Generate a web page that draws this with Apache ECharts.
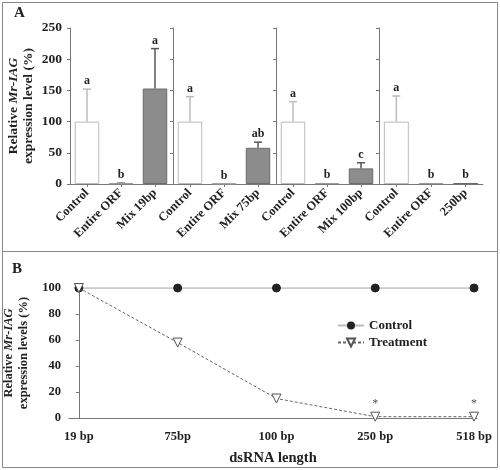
<!DOCTYPE html>
<html><head><meta charset="utf-8">
<script src="https://cdn.jsdelivr.net/npm/echarts@6/dist/echarts.min.js"></script>
<style>html,body{margin:0;padding:0;background:#fff}#c{width:500px;height:470px}</style>
</head><body><div id="c"></div>
<script>
// ---- Panel A data ----
const catsA1 = ["Control", "Entire ORF", "Mix 19bp"];
const catsA2 = ["Control", "Entire ORF", "Mix 75bp"];
const catsA3 = ["Control", "Entire ORF", "Mix 100bp"];
const catsA4 = ["Control", "Entire ORF", "250bp"];
const valsA1 = [100, 1, 153];
const valsA2 = [100, 0.5, 58];
const valsA3 = [100, 1.5, 25];
const valsA4 = [100, 1.5, 1.5];
const errA1 = [52, 1, 64];
const errA2 = [40, 0, 9];
const errA3 = [32, 0, 9];
const errA4 = [41, 0, 0];
const letA1 = ["a", "b", "a"];
const letA2 = ["a", "b", "ab"];
const letA3 = ["a", "b", "c"];
const letA4 = ["a", "b", "b"];

// ---- Panel B data ----
const catsB = ["19 bp", "75bp", "100 bp", "250 bp", "518 bp"];
const controlB = [100, 100, 100, 100, 100];
const treatB = [100, 58, 15, 1, 1];
const starsB = ["", "", "", "*", "*"];

const serif = "'Liberation Serif', 'DejaVu Serif', serif";
const axisCol = '#777';
const groups = [
  {cats: catsA1, vals: valsA1, err: errA1, let: letA1},
  {cats: catsA2, vals: valsA2, err: errA2, let: letA2},
  {cats: catsA3, vals: valsA3, err: errA3, let: letA3},
  {cats: catsA4, vals: valsA4, err: errA4, let: letA4}
];
const gridLefts = [70, 173, 276, 379];
const gridWidth = 102;
const barFill = ['#ffffff', '#ffffff', '#8c8c8c'];
const barBorder = ['#bbbbbb', '#999999', '#6a6a6a'];
const errCol = ['#bbbbbb', '#999999', '#555555'];

const grids = [], xAxes = [], yAxes = [], series = [];
groups.forEach((g, gi) => {
  grids.push({left: gridLefts[gi], width: gi === 3 ? 104 : gridWidth, top: 28, height: 156, outerBoundsMode: 'none', containLabel: false});
  xAxes.push({
    type: 'category', gridIndex: gi, data: g.cats,
    axisLine: {lineStyle: {color: axisCol, width: 1}},
    axisTick: {show: true, alignWithLabel: true, length: 3, lineStyle: {color: axisCol}},
    axisLabel: {rotate: 45, interval: 0, margin: 7, fontFamily: serif, fontWeight: 'bold', fontSize: 12.5, color: '#222'}
  });
  const ya = {
    type: 'value', gridIndex: gi, min: 0, max: 250, interval: 50,
    axisLine: {show: true, lineStyle: {color: axisCol, width: 1}},
    axisTick: {show: true, length: 3, lineStyle: {color: axisCol}},
    splitLine: {show: false},
    axisLabel: {show: gi === 0, fontFamily: serif, fontWeight: 'bold', fontSize: 13.5, color: '#222', margin: 8}
  };
  if (gi === 0) {
    ya.name = '{n|Relative }{i|Mr-IAG}\n{n|expression level (%)}';
    ya.nameLocation = 'middle';
    ya.nameGap = 34;
    ya.nameTextStyle = {
      fontFamily: serif, fontWeight: 'bold', fontSize: 13.5, color: '#222', lineHeight: 15,
      rich: {
        n: {fontFamily: serif, fontWeight: 'bold', fontSize: 13.5, color: '#222', lineHeight: 15},
        i: {fontFamily: serif, fontWeight: 'bold', fontStyle: 'italic', fontSize: 13.5, color: '#222', lineHeight: 15}
      }
    };
  }
  yAxes.push(ya);
  series.push({
    type: 'bar', xAxisIndex: gi, yAxisIndex: gi, barWidth: '72%',
    data: g.vals.map((v, i) => ({value: v, itemStyle: {color: barFill[i], borderColor: barBorder[i], borderWidth: 1}})),
    silent: true
  });
  series.push({
    type: 'custom', xAxisIndex: gi, yAxisIndex: gi, z: 5,
    data: g.vals.map((v, i) => [i, v, g.err[i]]),
    renderItem: function (params, api) {
      const i = api.value(0), v = api.value(1), e = api.value(2);
      const base = api.coord([i, v]);
      const top = api.coord([i, v + e]);
      const children = [];
      if (e > 0) {
        children.push({type: 'line', shape: {x1: base[0], y1: base[1], x2: top[0], y2: top[1]}, style: {stroke: errCol[i], lineWidth: 1.5}});
        children.push({type: 'line', shape: {x1: top[0] - 4, y1: top[1], x2: top[0] + 4, y2: top[1]}, style: {stroke: errCol[i], lineWidth: 1.5}});
      }
      children.push({type: 'text', style: {text: g.let[params.dataIndex], x: top[0], y: top[1] - 2, align: 'center', verticalAlign: 'bottom', font: 'bold 12px ' + serif, fill: '#222'}});
      return {type: 'group', children: children};
    }
  });
});

// Panel B
grids.push({left: 69, right: 23, top: 288, bottom: 52, outerBoundsMode: 'none', containLabel: false});
xAxes.push({
  type: 'value', gridIndex: 4, min: -0.1, max: 4.03,
  name: 'dsRNA length', nameLocation: 'middle', nameGap: 33,
  nameTextStyle: {fontFamily: serif, fontWeight: 'bold', fontSize: 14.5, color: '#222'},
  axisLine: {show: true, lineStyle: {color: axisCol}},
  axisTick: {show: false},
  splitLine: {show: false},
  axisLabel: {customValues: [0, 1, 2, 3, 4], formatter: v => catsB[Math.round(v)], fontFamily: serif, fontWeight: 'bold', fontSize: 12.5, color: '#222', margin: 12}
});
yAxes.push({
  type: 'value', gridIndex: 4, min: 0, max: 100, interval: 20,
  axisLine: {show: true, lineStyle: {color: axisCol}},
  axisTick: {show: true, length: 3, lineStyle: {color: axisCol}},
  splitLine: {show: false},
  axisLabel: {fontFamily: serif, fontWeight: 'bold', fontSize: 12.5, color: '#222', margin: 8},
  name: '{n|Relative }{i|Mr-IAG}\n{n|expression levels (%)}',
  nameLocation: 'middle', nameGap: 30,
  nameTextStyle: {
    fontFamily: serif, fontWeight: 'bold', fontSize: 12.5, color: '#222', lineHeight: 15,
    rich: {
      n: {fontFamily: serif, fontWeight: 'bold', fontSize: 12.5, color: '#222', lineHeight: 15},
      i: {fontFamily: serif, fontWeight: 'bold', fontStyle: 'italic', fontSize: 12.5, color: '#222', lineHeight: 15}
    }
  }
});
series.push({
  name: 'Control', type: 'line', xAxisIndex: 4, yAxisIndex: 4,
  data: controlB.map((v, i) => [i, v]),
  symbol: 'circle', symbolSize: 8,
  lineStyle: {color: '#bbbbbb', width: 1.5},
  itemStyle: {color: '#222', borderColor: '#222'},
  z: 3
});
series.push({
  name: 'Treatment', type: 'line', xAxisIndex: 4, yAxisIndex: 4,
  data: treatB.map((v, i) => [i, v]),
  symbol: 'triangle', symbolRotate: 180, symbolSize: 9,
  lineStyle: {color: '#666', width: 1, type: [3, 2]},
  itemStyle: {color: '#fff', borderColor: '#555', borderWidth: 1},
  label: {show: true, position: 'top', distance: 2, formatter: p => starsB[p.dataIndex], fontFamily: serif, fontSize: 12, color: '#555'},
  z: 4
});

const option = {
  backgroundColor: '#fff',
  animation: false,
  grid: grids, xAxis: xAxes, yAxis: yAxes, series: series,
  legend: {
    left: 332, top: 314, orient: 'vertical', itemGap: 4, itemWidth: 26, itemHeight: 10,
    data: ['Control', 'Treatment'],
    textStyle: {fontFamily: serif, fontWeight: 'bold', fontSize: 13, color: '#222'}
  },
  graphic: [
    {type: 'rect', shape: {x: 2.5, y: 2.5, width: 495, height: 249}, style: {fill: 'none', stroke: '#888', lineWidth: 1}},
    {type: 'rect', shape: {x: 2.5, y: 251.5, width: 495, height: 216}, style: {fill: 'none', stroke: '#888', lineWidth: 1}},
    {type: 'text', left: 14, top: 6, style: {text: 'A', font: 'bold 15px ' + serif, fill: '#222'}},
    {type: 'text', left: 12, top: 262, style: {text: 'B', font: 'bold 15px ' + serif, fill: '#222'}}
  ]
};
echarts.init(document.getElementById('c'), null, {renderer: 'canvas'}).setOption(option);
</script>
</body></html>
